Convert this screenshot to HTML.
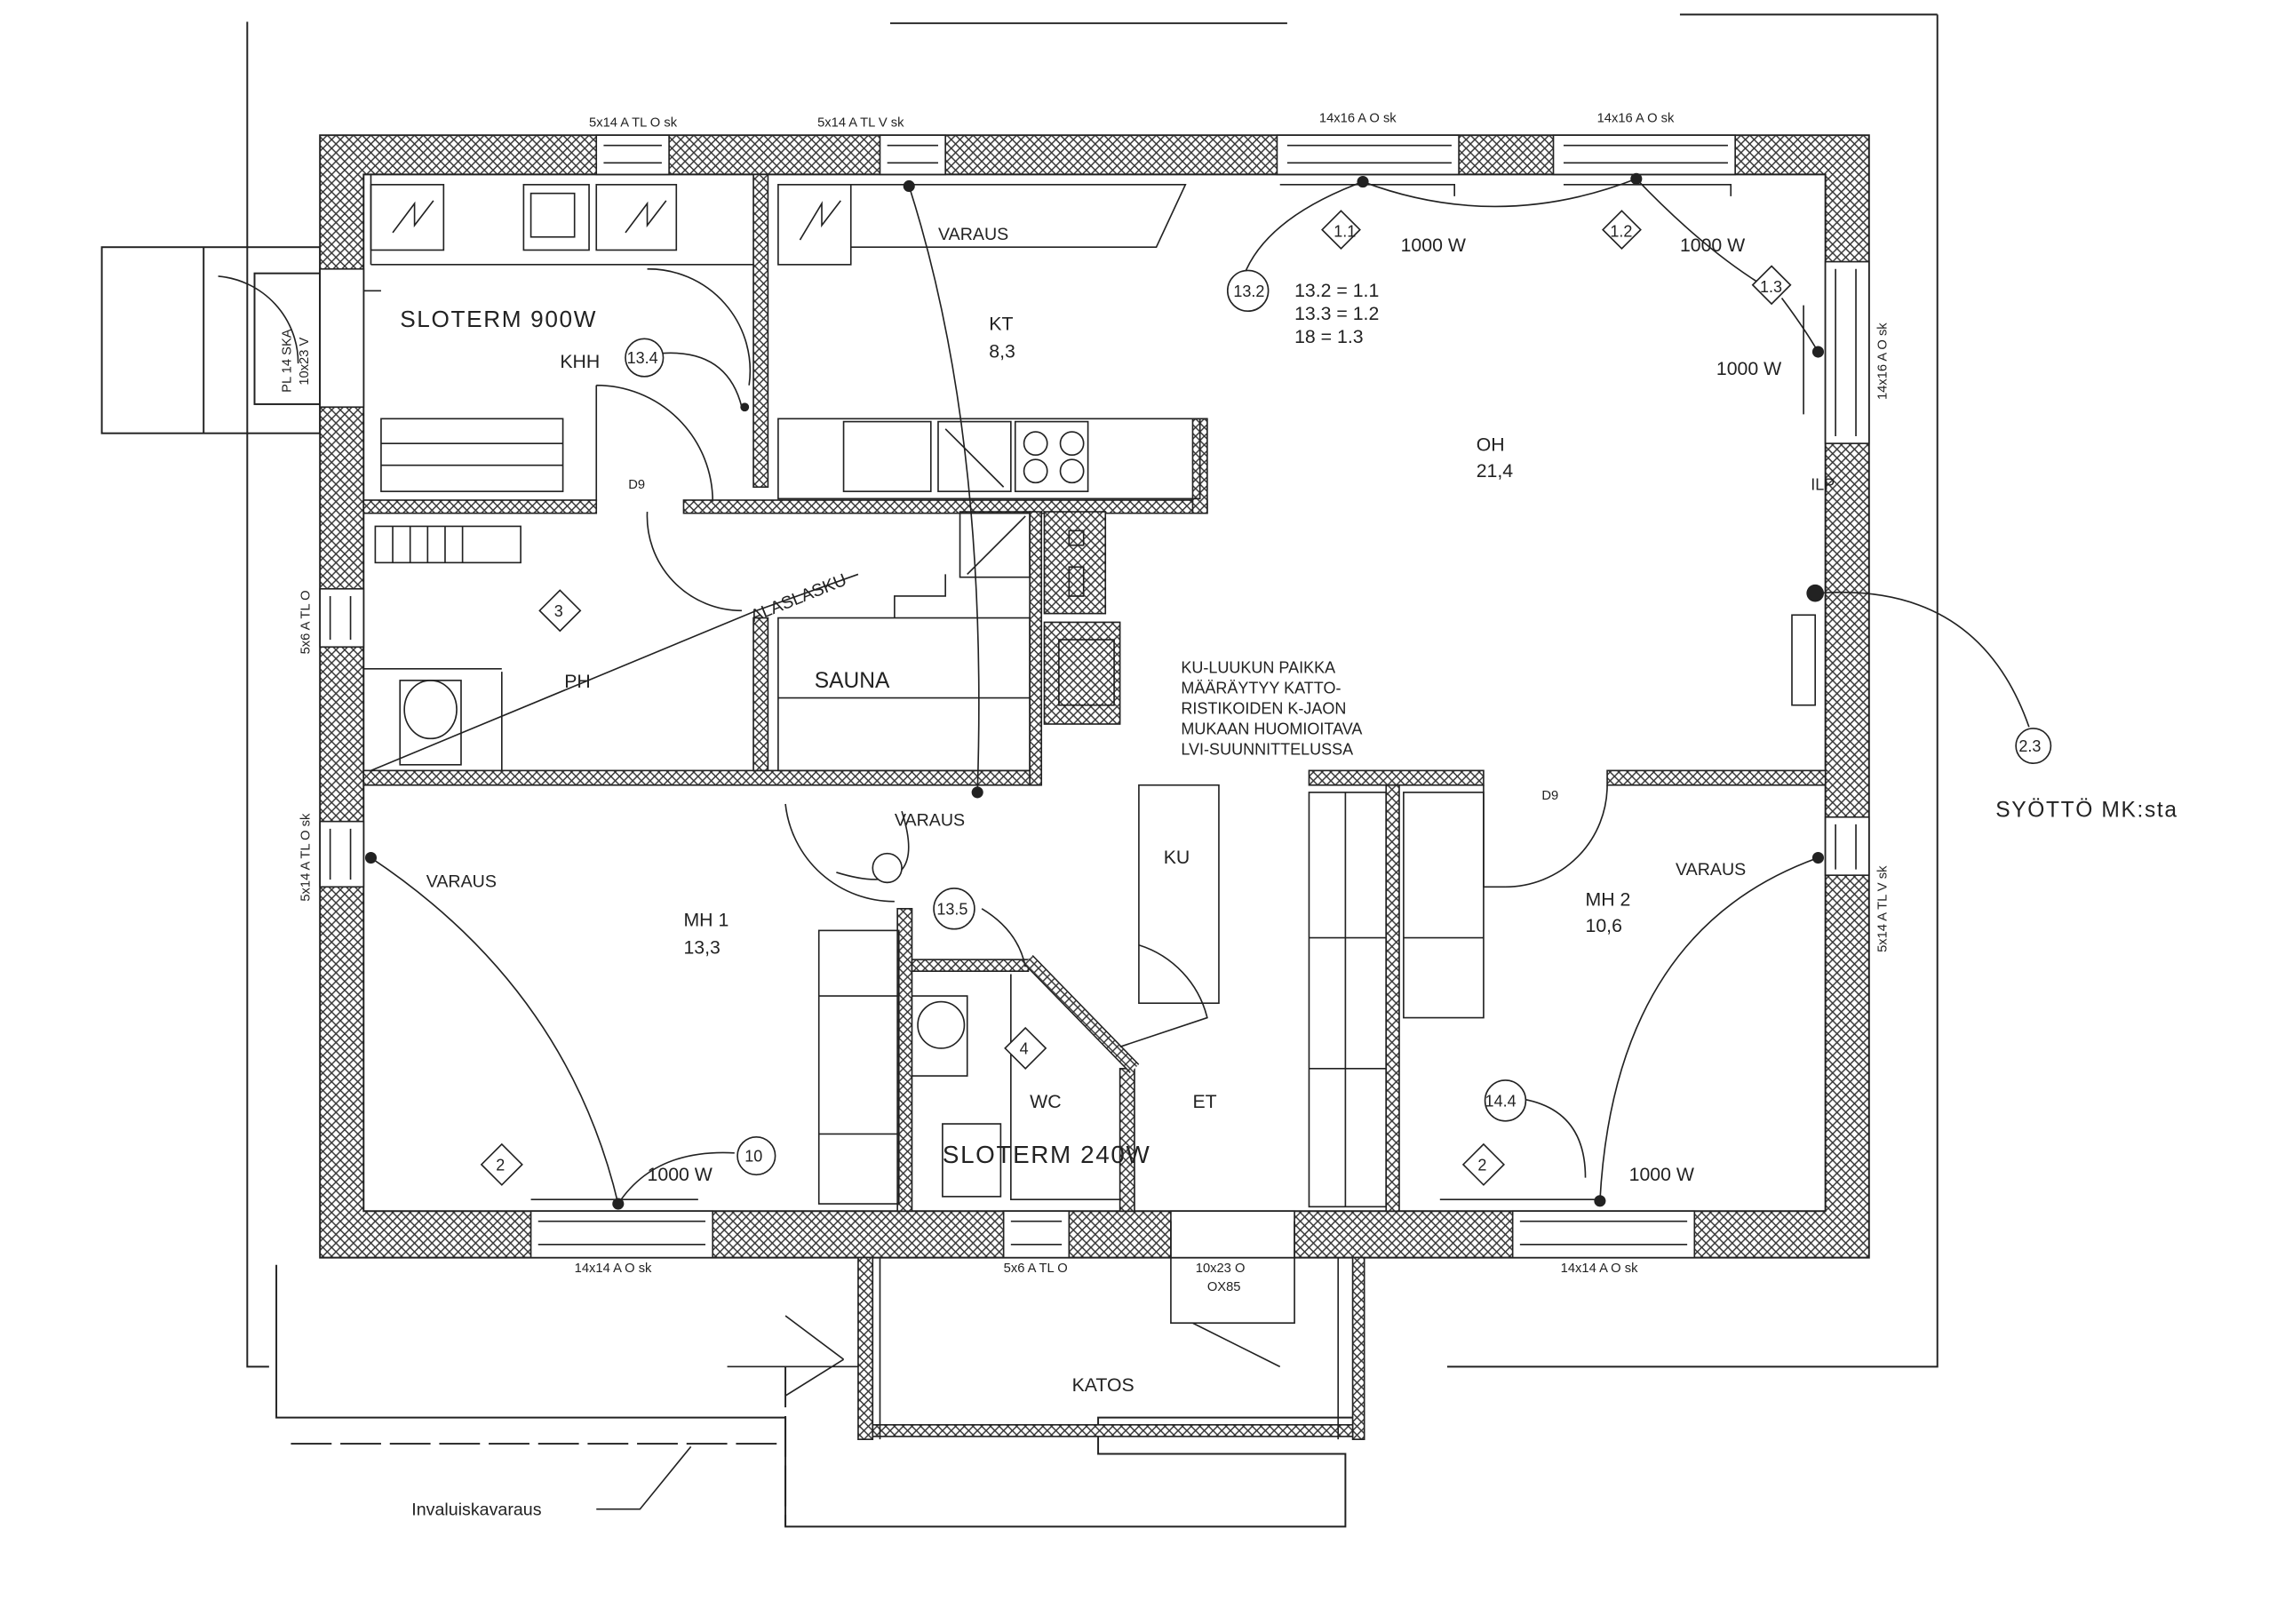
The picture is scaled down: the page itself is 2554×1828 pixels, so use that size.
<!DOCTYPE html>
<html><head><meta charset="utf-8"><style>
html,body{margin:0;padding:0;background:#fff}
svg{display:block}
text{font-family:"Liberation Sans",sans-serif;fill:#222}
</style></head><body>
<svg width="2554" height="1828" viewBox="0 0 1560 1117" preserveAspectRatio="none" xmlns="http://www.w3.org/2000/svg">
<defs>
<pattern id="h" width="6" height="6" patternUnits="userSpaceOnUse">
<rect width="6" height="6" fill="#fff"/>
<path d="M0 0L6 6M6 0L0 6" stroke="#333" stroke-width="0.9"/>
</pattern>
</defs>
<g fill="none" stroke="#222" stroke-width="1.2">
<!-- outer site lines -->
<path d="M170 15V940H185M190 870V975H540V1050H925V1000H755V975H930M995 940H1332V10M1155 10H1332M612 16H885"/>
<path d="M200 993H535M540 940V1050" stroke-dasharray="28 6"/>
<rect x="70" y="170" width="150" height="128"/>
<rect x="175" y="188" width="45" height="90"/>
<path d="M140 170V298"/>
<!-- outer wall -->
<path d="M220 93H1285V865H220Z M250 120H1255V833H250Z" fill="url(#h)" fill-rule="evenodd"/>
</g>
<!-- windows (white gaps) -->
<g fill="#fff" stroke="#222" stroke-width="1">
<rect x="410" y="93" width="50" height="27"/>
<rect x="605" y="93" width="45" height="27"/>
<rect x="878" y="93" width="125" height="27"/>
<rect x="1068" y="93" width="125" height="27"/>
<rect x="1255" y="180" width="30" height="125"/>
<rect x="1255" y="562" width="30" height="40"/>
<rect x="220" y="405" width="30" height="40"/>
<rect x="220" y="565" width="30" height="45"/>
<rect x="220" y="185" width="30" height="95"/>
<rect x="365" y="833" width="125" height="32"/>
<rect x="690" y="833" width="45" height="32"/>
<rect x="805" y="833" width="85" height="32"/>
<rect x="1040" y="833" width="125" height="32"/>
</g>
<g stroke="#222" stroke-width="1">
<path d="M415 100H455M415 112H455M610 100H645M610 112H645M885 100H998M885 112H998M1075 100H1188M1075 112H1188M1262 185V300M1276 185V300M1262 567V598M1276 567V598M227 410V440M241 410V440M227 570V605M241 570V605M370 840H485M370 856H485M695 840H730M695 856H730M1045 840H1160M1045 856H1160"/>
</g>
<!-- interior walls -->
<g fill="url(#h)" stroke="#222" stroke-width="1">
<rect x="250" y="344" width="160" height="9"/>
<rect x="470" y="344" width="360" height="9"/>
<rect x="820" y="288" width="10" height="65"/>
<rect x="518" y="120" width="10" height="215"/>
<rect x="250" y="530" width="465" height="10"/>
<rect x="708" y="352" width="8" height="188"/>
<rect x="518" y="425" width="10" height="105"/>
<rect x="718" y="352" width="42" height="70"/>
<rect x="718" y="428" width="52" height="70"/>
<rect x="900" y="530" width="120" height="10"/>
<rect x="1105" y="530" width="150" height="10"/>
<rect x="953" y="540" width="9" height="293"/>
<rect x="617" y="625" width="10" height="208"/>
<rect x="627" y="660" width="80" height="8"/>
<rect x="770" y="735" width="10" height="98"/>
<rect x="590" y="865" width="10" height="125"/>
<rect x="930" y="865" width="8" height="125"/>
<rect x="600" y="980" width="330" height="8"/>
</g>
<path d="M707 660L780 735" stroke="#222" stroke-width="9" fill="none"/>
<path d="M707 660L780 735" stroke="#fff" stroke-width="7" fill="none"/>
<path d="M707 660L780 735" stroke="url(#h)" stroke-width="7" fill="none"/>
<!-- fixtures -->
<g fill="none" stroke="#222" stroke-width="1">
<rect x="255" y="127" width="50" height="45"/><path d="M270 160L285 140V155L298 138"/>
<rect x="360" y="127" width="45" height="45"/><rect x="365" y="133" width="30" height="30"/>
<rect x="410" y="127" width="55" height="45"/><path d="M430 160L445 140V155L458 138"/>
<path d="M255 182H518M255 120V182"/>
<rect x="535" y="127" width="50" height="55"/><path d="M550 165L565 140V155L578 138"/>
<path d="M585 127H815L795 170H585"/>
<rect x="262" y="288" width="125" height="50"/><path d="M262 305H387M262 320H387"/>
<rect x="535" y="288" width="290" height="55"/>
<rect x="580" y="290" width="60" height="48"/><rect x="645" y="290" width="50" height="48"/><rect x="698" y="290" width="50" height="48"/>
<circle cx="712" cy="305" r="8"/><circle cx="737" cy="305" r="8"/><circle cx="712" cy="324" r="8"/><circle cx="737" cy="324" r="8"/>
<path d="M650 295L690 335"/>
<rect x="258" y="362" width="100" height="25"/><path d="M270 362V387M282 362V387M294 362V387M306 362V387M318 362V387"/>
<rect x="660" y="352" width="48" height="45"/><path d="M665 395L705 355"/>
<rect x="275" y="468" width="42" height="58"/><ellipse cx="296" cy="488" rx="18" ry="20"/>
<path d="M345 462V530M250 460H345"/>
<rect x="535" y="425" width="173" height="105"/><path d="M535 480H708M615 425V410H650V395"/>
<rect x="735" y="365" width="10" height="10"/><rect x="735" y="390" width="10" height="20"/>
<rect x="728" y="440" width="38" height="45"/>
<rect x="783" y="540" width="55" height="150"/>
<rect x="563" y="640" width="55" height="188"/><path d="M563 685H618M563 780H618"/>
<circle cx="647" cy="705" r="16"/><path d="M627 685H665V740H627"/>
<rect x="648" y="773" width="40" height="50"/>
<path d="M695 670V825H770"/>
<rect x="900" y="545" width="53" height="285"/><path d="M900 645H953M900 735H953M925 545V830"/>
<rect x="965" y="545" width="55" height="155"/><path d="M965 645H1020"/>
<path d="M1020 540V610H1035"/>
<rect x="1232" y="423" width="16" height="62"/>
<path d="M880 127H1000V135M1075 127H1190V135M1240 210V285"/>
<path d="M365 825H480M990 825H1100"/>
<path d="M805 840V910H890V840M820 910L880 940"/>
<path d="M605 865V990M920 865V990"/>
<!-- door swings -->
<path d="M410 265V345M410 265A80 80 0 0 1 490 345"/>
<path d="M445 185A70 70 0 0 1 515 265"/>
<path d="M445 352A65 65 0 0 0 510 420"/>
<path d="M540 553A75 75 0 0 0 615 620"/>
<path d="M783 650A70 70 0 0 1 830 700L770 720"/>
<path d="M1035 610A70 70 0 0 0 1105 540"/>
<path d="M150 190A60 60 0 0 1 205 250"/>
<path d="M250 200H262"/>
<!-- circuit arcs -->
<path d="M255 590Q390 680 425 828" />
<path d="M1250 590Q1110 640 1100 826"/>
<path d="M625 128Q680 300 672 545"/>
<path d="M937 125Q870 150 855 190"/>
<path d="M1125 123Q1170 170 1210 195"/>
<path d="M1225 205Q1240 225 1250 242"/>
<path d="M937 125Q1030 160 1125 123"/>
<path d="M1250 408Q1360 400 1395 500"/>
<path d="M1090 810Q1090 760 1040 755"/>
<path d="M455 243Q500 240 510 280"/>
<path d="M675 625Q700 640 705 665"/>
<path d="M575 600Q640 620 620 558"/>
<path d="M255 530L520 420L590 395"/>
<path d="M425 828Q450 790 505 793"/>
<path d="M540 905L580 935M540 960L580 935M500 940H590"/>
<path d="M475 995L440 1038H410"/>
</g>
<g fill="#222">
<circle cx="625" cy="128" r="4"/><circle cx="937" cy="125" r="4"/><circle cx="1125" cy="123" r="4"/>
<circle cx="1250" cy="242" r="4"/><circle cx="255" cy="590" r="4"/><circle cx="425" cy="828" r="4"/>
<circle cx="672" cy="545" r="4"/><circle cx="1250" cy="590" r="4"/><circle cx="1100" cy="826" r="4"/>
<circle cx="512" cy="280" r="3"/><circle cx="1248" cy="408" r="6"/>
</g>
<!-- tags -->
<g fill="#fff" stroke="#222" stroke-width="1">
<circle cx="858" cy="200" r="14"/><circle cx="443" cy="246" r="13"/><circle cx="656" cy="625" r="14"/>
<circle cx="520" cy="795" r="13"/><circle cx="1035" cy="757" r="14"/><circle cx="1398" cy="513" r="12"/>
<circle cx="610" cy="597" r="10"/>
<path d="M922 145l13 13-13 13-13-13z"/><path d="M1115 145l13 13-13 13-13-13z"/><path d="M1218 183l13 13-13 13-13-13z"/>
<path d="M385 406l14 14-14 14-14-14z"/><path d="M705 707l14 14-14 14-14-14z"/><path d="M345 787l14 14-14 14-14-14z"/><path d="M1020 787l14 14-14 14-14-14z"/>
</g>
<g font-size="11">
<text x="917" y="163">1.1</text><text x="1107" y="163">1.2</text><text x="1210" y="201">1.3</text>
<text x="848" y="204">13.2</text><text x="431" y="250">13.4</text><text x="644" y="629">13.5</text>
<text x="512" y="799">10</text><text x="1021" y="761">14.4</text><text x="1388" y="517">2.3</text>
<text x="381" y="424">3</text><text x="701" y="725">4</text><text x="341" y="805">2</text><text x="1016" y="805">2</text>
</g>
<g font-size="13">
<text x="275" y="225" font-size="16" letter-spacing="1">SLOTERM 900W</text>
<text x="385" y="253">KHH</text>
<text x="680" y="227">KT</text><text x="680" y="246">8,3</text>
<text x="645" y="165" font-size="12">VARAUS</text>
<text x="890" y="204">13.2 = 1.1</text><text x="890" y="220">13.3 = 1.2</text><text x="890" y="236">18 = 1.3</text>
<text x="963" y="173">1000 W</text><text x="1155" y="173">1000 W</text><text x="1180" y="258">1000 W</text>
<text x="1015" y="310">OH</text><text x="1015" y="328">21,4</text>
<text x="560" y="473" font-size="15">SAUNA</text>
<text x="388" y="473">PH</text>
<text x="518" y="428" font-size="12" transform="rotate(-22 518 428)">ALASLASKU</text>
<text x="812" y="463" font-size="11">KU-LUUKUN PAIKKA</text>
<text x="812" y="477" font-size="11">MÄÄRÄYTYY KATTO-</text>
<text x="812" y="491" font-size="11">RISTIKOIDEN K-JAON</text>
<text x="812" y="505" font-size="11">MUKAAN HUOMIOITAVA</text>
<text x="812" y="519" font-size="11">LVI-SUUNNITTELUSSA</text>
<text x="615" y="568" font-size="12">VARAUS</text>
<text x="293" y="610" font-size="12">VARAUS</text>
<text x="1152" y="602" font-size="12">VARAUS</text>
<text x="800" y="594">KU</text>
<text x="470" y="637">MH 1</text><text x="470" y="656">13,3</text>
<text x="1090" y="623">MH 2</text><text x="1090" y="641">10,6</text>
<text x="708" y="762">WC</text><text x="820" y="762">ET</text>
<text x="648" y="800" font-size="17" letter-spacing="1">SLOTERM 240W</text>
<text x="445" y="812">1000 W</text><text x="1120" y="812">1000 W</text>
<text x="737" y="957">KATOS</text>
<text x="1372" y="562" font-size="15" letter-spacing="1">SYÖTTÖ MK:sta</text>
<text x="283" y="1042" font-size="12">Invaluiskavaraus</text>
</g>
<g font-size="9">
<text x="405" y="87">5x14 A TL  O sk</text><text x="562" y="87">5x14 A TL  V sk</text>
<text x="907" y="84">14x16 A   O sk</text><text x="1098" y="84">14x16 A   O sk</text>
<text x="395" y="875">14x14 A    O sk</text><text x="690" y="875">5x6 A TL  O</text>
<text x="822" y="875">10x23 O</text><text x="830" y="888">OX85</text>
<text x="1073" y="875">14x14 A    O sk</text>
<text x="1245" y="337" font-size="11">ILP</text>
<text x="1060" y="550">D9</text><text x="432" y="336">D9</text>
<text transform="translate(1297 275) rotate(-90)">14x16 A   O sk</text>
<text transform="translate(1297 655) rotate(-90)">5x14 A TL V sk</text>
<text transform="translate(213 450) rotate(-90)">5x6 A TL O</text>
<text transform="translate(213 620) rotate(-90)">5x14 A TL O sk</text>
<text transform="translate(200 270) rotate(-90)">PL 14 SKA</text>
<text transform="translate(212 265) rotate(-90)">10x23 V</text>
</g>
</svg>
</body></html>
